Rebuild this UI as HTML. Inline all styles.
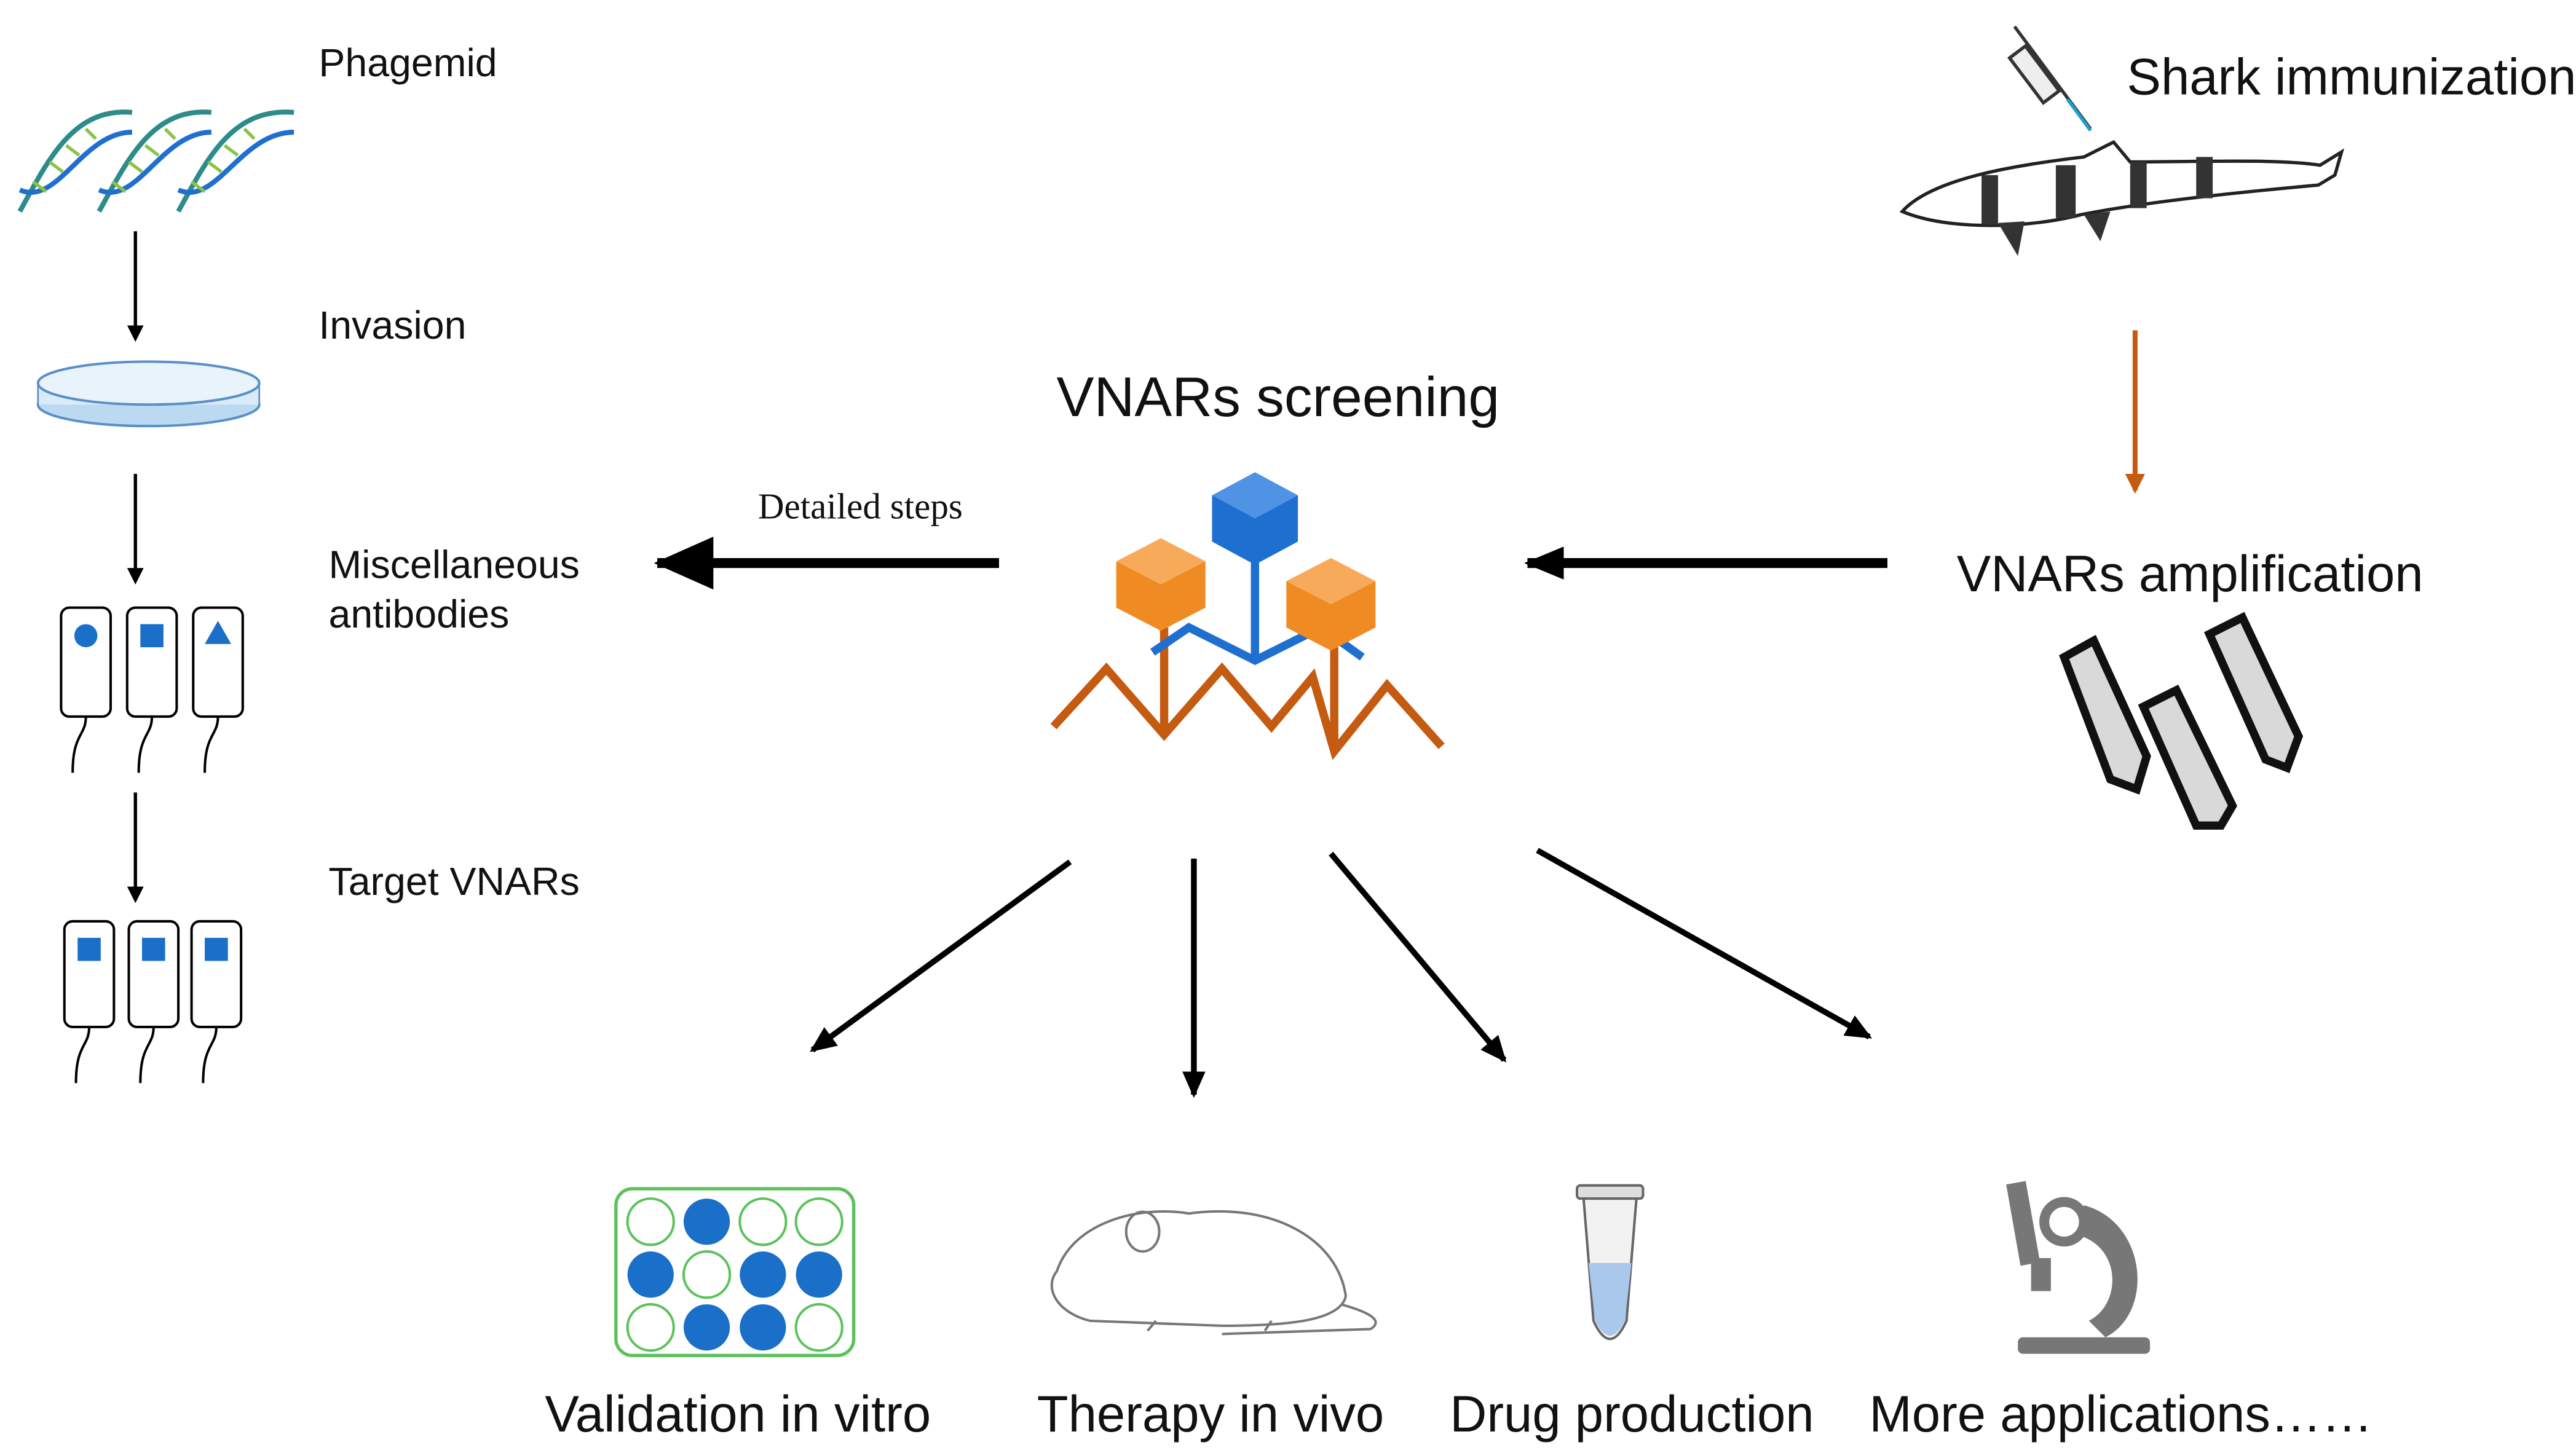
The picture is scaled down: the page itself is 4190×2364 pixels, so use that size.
<!DOCTYPE html>
<html><head><meta charset="utf-8"><style>
html,body{margin:0;padding:0;background:#fff;}
svg{display:block;}
text{font-family:"Liberation Sans",Arial,sans-serif;fill:#111;}
</style></head><body>
<svg width="4190" height="2364" viewBox="0 0 1560 880" xmlns="http://www.w3.org/2000/svg">
<defs>
<marker id="ah" markerWidth="10" markerHeight="10" refX="8" refY="5" orient="auto" markerUnits="userSpaceOnUse"><path d="M0,0 L10,5 L0,10 z" fill="#000"/></marker>
<marker id="ahb" markerWidth="16" markerHeight="14" refX="14" refY="7" orient="auto" markerUnits="userSpaceOnUse"><path d="M0,0 L16,7 L0,14 z" fill="#000"/></marker>
<marker id="ahh" markerWidth="36" markerHeight="36" refX="34" refY="18" orient="auto" markerUnits="userSpaceOnUse"><path d="M0,2 L36,18 L0,34 z" fill="#000"/></marker>
<marker id="ahm" markerWidth="24" markerHeight="24" refX="22" refY="12" orient="auto" markerUnits="userSpaceOnUse"><path d="M0,2 L24,12 L0,22 z" fill="#000"/></marker>
<marker id="aho" markerWidth="12" markerHeight="12" refX="10" refY="6" orient="auto" markerUnits="userSpaceOnUse"><path d="M0,0 L12,6 L0,12 z" fill="#c55a11"/></marker>
</defs>

<text x="193" y="46" font-size="24">Phagemid</text>
<g fill="none" stroke-width="3">
 <path d="M12,128 C30,95 45,65 80,68" stroke="#2e8b8b"/>
 <path d="M12,115 C35,125 50,80 80,80" stroke="#1f6fd1"/>
 <path d="M60,128 C78,95 93,65 128,68" stroke="#2e8b8b"/>
 <path d="M60,115 C83,125 98,80 128,80" stroke="#1f6fd1"/>
 <path d="M108,128 C126,95 141,65 178,68" stroke="#2e8b8b"/>
 <path d="M108,115 C131,125 146,80 178,80" stroke="#1f6fd1"/>
</g>
<g stroke="#8bc34a" stroke-width="2">
 <path d="M20,110 l8,6 M30,98 l8,6 M40,88 l8,6 M52,78 l6,6 M68,110 l8,6 M78,98 l8,6 M88,88 l8,6 M100,78 l6,6 M116,110 l8,6 M126,98 l8,6 M136,88 l8,6 M148,78 l6,6"/>
</g>
<line x1="82" y1="140" x2="82" y2="205" stroke="#000" stroke-width="2" marker-end="url(#ah)"/>
<text x="193" y="205" font-size="24">Invasion</text>
<ellipse cx="90" cy="245" rx="67" ry="13" fill="#bcd9f2" stroke="#5a8fc7" stroke-width="1.5"/>
<rect x="23" y="232" width="134" height="13" fill="#d9ebf9"/>
<ellipse cx="90" cy="232" rx="67" ry="13" fill="#e8f3fc" stroke="#5a8fc7" stroke-width="1.5"/>
<line x1="23" y1="232" x2="23" y2="245" stroke="#5a8fc7"/><line x1="157" y1="232" x2="157" y2="245" stroke="#5a8fc7"/>
<line x1="82" y1="287" x2="82" y2="352" stroke="#000" stroke-width="2" marker-end="url(#ah)"/>
<text x="199" y="350" font-size="24">Miscellaneous</text>
<text x="199" y="380" font-size="24">antibodies</text>
<g fill="#fff" stroke="#000" stroke-width="1.5">
 <rect x="37" y="368" width="30" height="66" rx="5"/><rect x="77" y="368" width="30" height="66" rx="5"/><rect x="117" y="368" width="30" height="66" rx="5"/>
 <path d="M52,434 c0,12 -8,10 -8,34 M92,434 c0,12 -8,10 -8,34 M132,434 c0,12 -8,10 -8,34" fill="none"/>
</g>
<circle cx="52" cy="385" r="7" fill="#1a6fc9"/>
<rect x="85" y="378" width="14" height="14" fill="#1a6fc9"/>
<path d="M132,376 L140,390 L124,390 z" fill="#1a6fc9"/>
<line x1="82" y1="480" x2="82" y2="545" stroke="#000" stroke-width="2" marker-end="url(#ah)"/>
<text x="199" y="542" font-size="24">Target VNARs</text>
<g fill="#fff" stroke="#000" stroke-width="1.5">
 <rect x="39" y="558" width="30" height="64" rx="5"/><rect x="78" y="558" width="30" height="64" rx="5"/><rect x="116" y="558" width="30" height="64" rx="5"/>
 <path d="M54,622 c0,12 -8,10 -8,34 M93,622 c0,12 -8,10 -8,34 M131,622 c0,12 -8,10 -8,34" fill="none"/>
</g>
<rect x="47" y="568" width="14" height="14" fill="#1a6fc9"/><rect x="86" y="568" width="14" height="14" fill="#1a6fc9"/><rect x="124" y="568" width="14" height="14" fill="#1a6fc9"/>

<text x="774" y="252" font-size="34" text-anchor="middle">VNARs screening</text>
<text x="521" y="314" font-size="22" text-anchor="middle" style="font-family:'Liberation Serif',serif">Detailed steps</text>
<line x1="605" y1="341" x2="398" y2="341" stroke="#000" stroke-width="6" marker-end="url(#ahh)"/>
<line x1="1143" y1="341" x2="925" y2="341" stroke="#000" stroke-width="6" marker-end="url(#ahm)"/>
<polyline points="638,440 670,405 705,445 740,405 770,440 795,410 808,455 840,415 873,452" fill="none" stroke="#c55a11" stroke-width="5"/>
<line x1="705" y1="380" x2="705" y2="445" stroke="#c55a11" stroke-width="5"/>
<line x1="808" y1="392" x2="808" y2="455" stroke="#c55a11" stroke-width="5"/>
<g stroke="#1f6fd1" stroke-width="5" fill="none">
 <line x1="760" y1="340" x2="760" y2="400"/>
 <path d="M698,395 L720,380 L760,400 L800,380 L825,398"/>
</g>
<polygon points="760,286 786,300 786,328 760,342 734,328 734,300" fill="#1f6fd1"/>
<polygon points="760,286 786,300 760,314 734,300" fill="#4f93e4"/>
<polygon points="703,326 730,340 730,368 703,382 676,368 676,340" fill="#f08a22"/>
<polygon points="703,326 730,340 703,354 676,340" fill="#f7aa5a"/>
<polygon points="806,338 833,352 833,380 806,394 779,380 779,352" fill="#f08a22"/>
<polygon points="806,338 833,352 806,366 779,352" fill="#f7aa5a"/>

<text x="1288" y="57" font-size="31">Shark immunization</text>
<g stroke="#333" stroke-width="2" fill="none">
 <line x1="1220" y1="16" x2="1266" y2="78"/>
 <rect x="1226" y="28" width="12" height="34" transform="rotate(-37 1232 45)" fill="#eee"/>
</g>
<line x1="1252" y1="60" x2="1266" y2="79" stroke="#1f9fd1" stroke-width="2"/>
<path d="M1152,128 C1170,108 1220,100 1262,95 L1280,86 L1290,98 C1330,98 1380,96 1405,100 L1418,92 L1414,106 L1404,112 C1360,116 1300,122 1260,130 C1230,138 1180,140 1152,128 z" fill="#fff" stroke="#222" stroke-width="2"/>
<g fill="#333"><rect x="1200" y="106" width="10" height="30"/><rect x="1245" y="100" width="12" height="32"/><rect x="1290" y="98" width="10" height="28"/><rect x="1330" y="95" width="10" height="25"/><path d="M1210,135 L1222,155 L1226,134 z"/><path d="M1262,130 L1272,146 L1278,128 z"/></g>
<line x1="1293" y1="200" x2="1293" y2="297" stroke="#c55a11" stroke-width="3" marker-end="url(#aho)"/>
<text x="1185" y="358" font-size="31">VNARs amplification</text>
<g stroke="#111" stroke-width="5" fill="#d9d9d9">
 <path d="M1250,398 L1268,388 L1300,458 L1294,478 L1278,472 z"/>
 <path d="M1298,428 L1318,418 L1352,488 L1345,500 L1330,500 z"/>
 <path d="M1338,384 L1358,374 L1392,446 L1385,465 L1372,460 z"/>
</g>

<g stroke="#000" stroke-width="3.5">
 <line x1="648" y1="522" x2="492" y2="636" marker-end="url(#ahb)"/>
 <line x1="723" y1="520" x2="723" y2="663" marker-end="url(#ahb)"/>
 <line x1="806" y1="517" x2="911" y2="642" marker-end="url(#ahb)"/>
 <line x1="931" y1="515" x2="1132" y2="628" marker-end="url(#ahb)"/>
</g>

<rect x="373" y="720" width="144" height="101" rx="10" fill="#fff" stroke="#5cc15c" stroke-width="2"/>
<g stroke="#5cc15c" stroke-width="1.5" fill="#fff">
 <circle cx="394" cy="740" r="14"/><circle cx="462" cy="740" r="14"/><circle cx="496" cy="740" r="14"/>
 <circle cx="428" cy="772" r="14"/>
 <circle cx="394" cy="804" r="14"/><circle cx="496" cy="804" r="14"/>
</g>
<g fill="#1a6fc9">
 <circle cx="428" cy="740" r="14"/><circle cx="394" cy="772" r="14"/><circle cx="462" cy="772" r="14"/><circle cx="496" cy="772" r="14"/><circle cx="428" cy="804" r="14"/><circle cx="462" cy="804" r="14"/>
</g>
<g fill="none" stroke="#777" stroke-width="1.5">
 <path d="M640,770 C650,740 690,730 720,735 C770,728 810,750 815,785 C812,800 780,803 740,803 L660,800 C640,795 632,780 640,770 z"/>
 <path d="M812,790 C830,795 838,800 830,805 L740,808"/>
 <ellipse cx="692" cy="746" rx="10" ry="12"/>
 <path d="M700,800 l-5,6 M770,800 l-4,6"/>
</g>
<g stroke="#666" stroke-width="1.5">
 <rect x="955" y="718" width="40" height="8" rx="2" fill="#ddd"/>
 <path d="M959,726 L991,726 L985,800 Q975,822 965,800 z" fill="#f2f2f2"/>
 <path d="M962,765 L988,765 L984,800 Q975,818 966,800 z" fill="#a9c8ec" stroke="none"/>
</g>
<g fill="#777">
 <rect x="1219" y="716" width="12" height="50" transform="rotate(-10 1225 740)"/>
 <rect x="1230" y="762" width="12" height="20"/>
 <circle cx="1250" cy="740" r="12" fill="#fff" stroke="#777" stroke-width="6"/>
 <path d="M1262,730 C1300,740 1305,795 1275,810 L1265,800 C1285,790 1285,755 1258,748 z"/>
 <rect x="1222" y="810" width="80" height="10" rx="3"/>
</g>
<g font-size="31">
 <text x="330" y="867">Validation in vitro</text>
 <text x="628" y="867">Therapy in vivo</text>
 <text x="878" y="867">Drug production</text>
 <text x="1132" y="867">More applications……</text>
</g>
</svg>
</body></html>
